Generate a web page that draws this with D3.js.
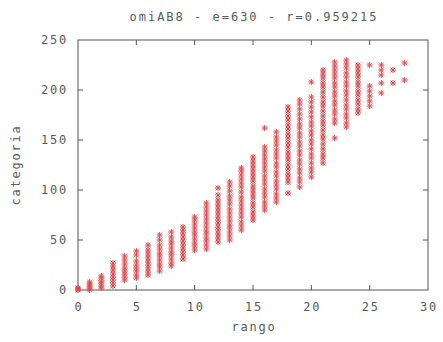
<!DOCTYPE html>
<html>
<head>
<meta charset="utf-8">
<script src="https://cdn.jsdelivr.net/npm/d3@7"></script>
<style>
  body { margin: 0; background: #fff; }
  text { font-family: "DejaVu Sans Mono", monospace; fill: #5a5a5a; }
</style>
</head>
<body>
<div id="chart"></div>
<script>
var width = 443, height = 342;
var margin = {top: 40, right: 15, bottom: 52, left: 78};

var title = "omiAB8 - e=630 - r=0.959215";
var xTicks = [0, 5, 10, 15, 20, 25, 30];
var yTicks = [0, 50, 100, 150, 200, 250];

// rango (x) of each column
var rango = [0,1,2,3,4,5,6,7,8,9,10,11,12,13,14,15,16,17,18,19,20,21,22,23,24,25,26,27,28];

// categoria values (y) per column
var categoria = [
  [0, 1, 2],
  [0, 2, 4, 6, 8],
  [2, 4, 7, 9, 12, 14],
  [4, 7, 10, 13, 16, 20, 24, 27],
  [10, 13, 16, 19, 22, 26, 30, 34],
  [12, 15, 19, 22, 25, 29, 35, 39],
  [15, 18, 22, 25, 28, 32, 36, 40, 45],
  [19, 23, 26, 30, 34, 37, 41, 45, 50, 55],
  [24, 27, 31, 35, 38, 42, 46, 49, 53, 58],
  [31, 35, 38, 42, 45, 49, 53, 57, 60, 63],
  [40, 44, 47, 51, 55, 58, 62, 66, 70, 73],
  [41, 45, 49, 52, 56, 59, 63, 67, 71, 75, 79, 83, 87],
  [48, 52, 56, 60, 63, 67, 70, 74, 78, 82, 86, 90, 95, 102],
  [50, 54, 58, 62, 65, 69, 73, 77, 81, 86, 90, 94, 99, 104, 108],
  [60, 64, 68, 73, 77, 81, 85, 89, 93, 98, 103, 107, 111, 115, 119, 122],
  [70, 74, 78, 83, 87, 92, 96, 100, 104, 109, 113, 117, 121, 125, 129, 133],
  [80, 84, 88, 93, 97, 101, 106, 110, 114, 119, 123, 127, 131, 135, 139, 143, 162],
  [88, 92, 96, 101, 105, 109, 114, 118, 123, 127, 132, 136, 140, 145, 149, 153, 158],
  [97, 108, 112, 116, 121, 125, 130, 134, 138, 143, 147, 152, 156, 161, 165, 170, 174, 179, 183],
  [103, 108, 112, 117, 121, 126, 130, 135, 139, 144, 148, 153, 157, 162, 166, 171, 176, 181, 186, 190],
  [113, 118, 122, 127, 132, 136, 141, 146, 150, 155, 159, 164, 168, 173, 178, 183, 188, 193, 208],
  [127, 132, 136, 141, 146, 151, 155, 160, 165, 169, 174, 179, 184, 188, 193, 198, 203, 207, 212, 216, 220],
  [152, 167, 171, 176, 180, 185, 189, 194, 198, 203, 207, 212, 216, 220, 224, 228],
  [163, 167, 172, 176, 181, 185, 190, 195, 199, 204, 208, 213, 217, 222, 226, 230],
  [177, 181, 186, 190, 195, 199, 204, 208, 213, 217, 221, 225],
  [184, 189, 194, 199, 204, 225],
  [197, 207, 215, 220, 225],
  [207, 220],
  [210, 227]
];

var points = [];
rango.forEach(function (r, i) {
  categoria[i].forEach(function (v) { points.push({x: r, y: v}); });
});

var svg = d3.select("#chart").append("svg")
  .attr("width", width)
  .attr("height", height);

var x = d3.scaleLinear().domain([0, 30]).range([margin.left, width - margin.right]);
var y = d3.scaleLinear().domain([0, 250]).range([height - margin.bottom, margin.top]);

var frameColor = "#555";

// frame
svg.append("rect")
  .attr("x", x(0)).attr("y", y(250))
  .attr("width", x(30) - x(0)).attr("height", y(0) - y(250))
  .attr("fill", "none").attr("stroke", frameColor).attr("stroke-width", 1);

// inward ticks, mirrored on top and right
var tl = 5;
svg.append("g").selectAll("line").data(xTicks.slice(1, -1)).join("line")
  .attr("x1", d => x(d)).attr("x2", d => x(d))
  .attr("y1", y(0)).attr("y2", y(0) - tl).attr("stroke", frameColor);
svg.append("g").selectAll("line").data(xTicks.slice(1, -1)).join("line")
  .attr("x1", d => x(d)).attr("x2", d => x(d))
  .attr("y1", y(250)).attr("y2", y(250) + tl).attr("stroke", frameColor);
svg.append("g").selectAll("line").data(yTicks.slice(1, -1)).join("line")
  .attr("x1", x(0)).attr("x2", x(0) + tl)
  .attr("y1", d => y(d)).attr("y2", d => y(d)).attr("stroke", frameColor);
svg.append("g").selectAll("line").data(yTicks.slice(1, -1)).join("line")
  .attr("x1", x(30)).attr("x2", x(30) - tl)
  .attr("y1", d => y(d)).attr("y2", d => y(d)).attr("stroke", frameColor);

// tick labels
svg.append("g").selectAll("text").data(xTicks).join("text")
  .attr("x", d => x(d) + 1)
  .attr("y", y(0) + 21)
  .attr("text-anchor", "middle")
  .attr("font-size", 12)
  .attr("letter-spacing", 1.8)
  .text(d => d);

svg.append("g").selectAll("text").data(yTicks).join("text")
  .attr("x", x(0) - 10)
  .attr("y", d => y(d) + 4)
  .attr("text-anchor", "end")
  .attr("font-size", 12)
  .attr("letter-spacing", 1.8)
  .text(d => d);

// title and axis titles
svg.append("text")
  .attr("x", (x(0) + x(30)) / 2 + 1).attr("y", 21)
  .attr("text-anchor", "middle")
  .attr("font-size", 12)
  .attr("letter-spacing", 2)
  .text(title);

svg.append("text")
  .attr("x", (x(0) + x(30)) / 2 + 1).attr("y", 331)
  .attr("text-anchor", "middle")
  .attr("font-size", 12)
  .attr("letter-spacing", 1.8)
  .text("rango");

svg.append("text")
  .attr("transform", "translate(20," + ((y(0) + y(250)) / 2) + ") rotate(-90)")
  .attr("text-anchor", "middle")
  .attr("font-size", 12)
  .attr("letter-spacing", 1.8)
  .text("categoria");

// asterisk markers
var s = 3, d2 = 2.3;
var star = "M" + (-s) + ",0H" + s + "M0," + (-s) + "V" + s +
  "M" + (-d2) + "," + (-d2) + "L" + d2 + "," + d2 +
  "M" + (-d2) + "," + d2 + "L" + d2 + "," + (-d2);

svg.append("g").selectAll("path").data(points).join("path")
  .attr("transform", d => "translate(" + x(d.x) + "," + y(d.y) + ")")
  .attr("d", star)
  .attr("fill", "none")
  .attr("stroke", "#e6474a")
  .attr("stroke-width", 1);
</script>
</body>
</html>
